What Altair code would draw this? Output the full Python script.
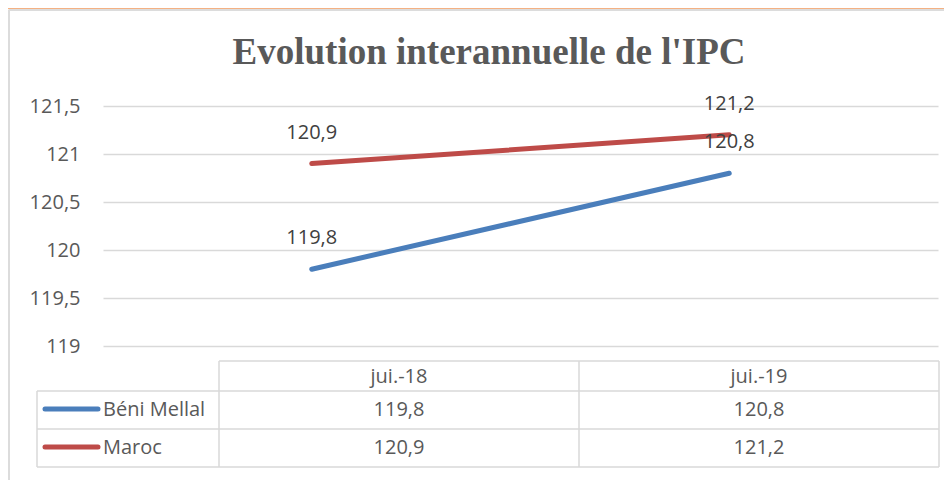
import altair as alt
import pandas as pd

# ---- data ----
TITLE = "Evolution interannuelle de l'IPC"
categories = ["jui.-18", "jui.-19"]
series = ["Béni Mellal", "Maroc"]
beni_mellal = [119.8, 120.8]
maroc = [120.9, 121.2]
y_ticks = [119, 119.5, 120, 120.5, 121, 121.5]
colors = ["#4A7EBB", "#BE4B48"]

rows = []
for s, vals in zip(series, [beni_mellal, maroc]):
    for c, v in zip(categories, vals):
        rows.append({"series": s, "cat": c, "value": v})
df = pd.DataFrame(rows)
one = pd.DataFrame({"k": [0]})

FONT = "Open Sans"
GRID = "#d9d9d9"
TXT = "#595959"

color_enc = alt.Color("series:N", scale=alt.Scale(domain=series, range=colors), legend=None)
x_plot = alt.X("cat:N", scale=alt.Scale(type="point", padding=0.5, domain=categories), axis=None)
y_plot = alt.Y(
    "value:Q",
    scale=alt.Scale(domain=[119, 121.5], nice=False, zero=False),
    axis=alt.Axis(
        values=y_ticks, title=None, domain=False, ticks=False, grid=True,
        gridColor=GRID, gridWidth=1.5, labelFont=FONT, labelFontSize=20,
        labelColor=TXT, labelPadding=23, labelExpr="replace(format(datum.value, ''), '.', ',')",
    ),
)

base = alt.Chart(df).transform_calculate(
    lab="replace(format(datum.value, '.1f'), '.', ',')"
)
lines = base.mark_line(strokeWidth=5, strokeCap="round").encode(x=x_plot, y=y_plot, color=color_enc)
labels = base.mark_text(dy=-31, font=FONT, fontSize=20, color="#404040").encode(
    x=x_plot, y=y_plot, text="lab:N",
)
plot = alt.layer(lines, labels)

# ---- data table ----
x_tab = alt.X("cat:N", scale=alt.Scale(type="point", padding=0.5, domain=categories, range=[116, 836]), axis=None)
y_tab = alt.Y("series:N", scale=alt.Scale(type="point", padding=0, domain=series, range=[304, 342]), axis=None)

tab_vals = base.mark_text(font=FONT, fontSize=20, color=TXT).encode(x=x_tab, y=y_tab, text="lab:N")
tab_head = alt.Chart(pd.DataFrame({"cat": categories})).mark_text(font=FONT, fontSize=20, color=TXT).encode(
    x=x_tab, y=alt.value(271), text="cat:N"
)
tab_names = alt.Chart(pd.DataFrame({"series": series})).mark_text(
    font=FONT, fontSize=20, color=TXT, align="left"
).encode(x=alt.value(0), y=y_tab, text="series:N")
tab_swatch = alt.Chart(pd.DataFrame({"series": series})).mark_rule(strokeWidth=5, strokeCap="round").encode(
    x=alt.value(-58), x2=alt.value(-5), y=alt.Y("series:N", scale=alt.Scale(type="point", padding=0, domain=series, range=[303, 341]), axis=None),
    color=color_enc,
)


def rule(x1, x2, y1, y2, color=GRID, w=1.5):
    return alt.Chart(one).mark_rule(color=color, strokeWidth=w).encode(
        x=alt.value(x1), x2=alt.value(x2), y=alt.value(y1), y2=alt.value(y2)
    )


grid_rules = [
    rule(116, 836, 255, 255),
    rule(-66, 836, 285, 285),
    rule(-66, 836, 323, 323),
    rule(-66, 836, 361, 361),
    rule(-66, -66, 285, 361),
    rule(116, 116, 255, 361),
    rule(476, 476, 255, 361),
    rule(836, 836, 255, 361),
    # frame bits at top/left
    rule(-95, 841, -97.5, -97.5, color="#F4B183", w=1.5),
    rule(-94, 841, -96, -96, color="#dcdcdc", w=2),
    rule(-94, -94, -96, 374, color="#dcdcdc", w=2),
]

title = alt.Chart(pd.DataFrame({"t": [TITLE]})).mark_text(
    font="Liberation Serif", fontWeight="bold", fontSize=37, color=TXT, baseline="alphabetic"
).encode(x=alt.value(386), y=alt.value(-42), text="t:N")

chart = alt.layer(
    plot, tab_vals, tab_head, tab_names, tab_swatch, title, *grid_rules
).resolve_scale(x="independent", y="independent").properties(
    width=835, height=240,
    autosize=alt.AutoSizeParams(type="none"),
    padding={"left": 95, "top": 98, "right": 6, "bottom": 134},
).configure(background="white").configure_view(stroke=None, strokeWidth=0)

chart.save("out.html", embed_options={"renderer": "svg", "actions": False})
